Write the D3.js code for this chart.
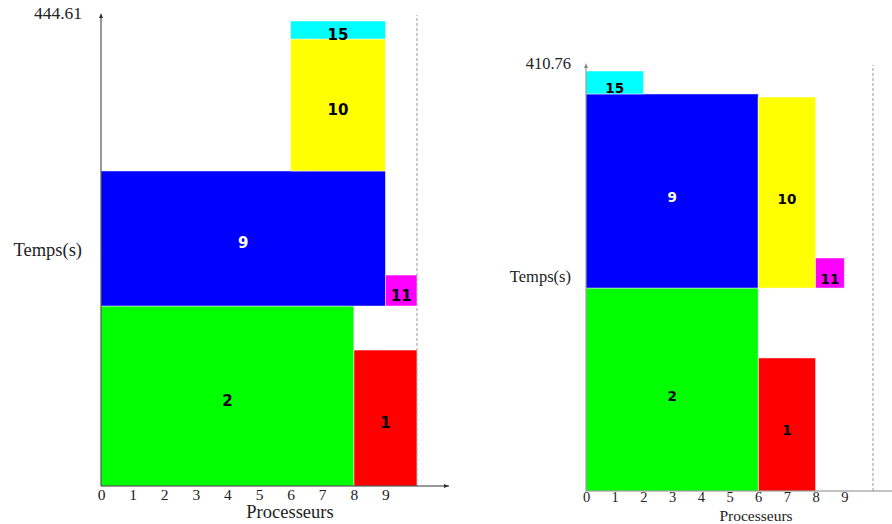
<!DOCTYPE html>
<html><head><meta charset="utf-8">
<script src="https://cdn.jsdelivr.net/npm/d3@7/dist/d3.min.js"></script>
<style>body{margin:0;background:#fff;}svg{display:block;}</style>
</head><body>
<svg id="chart" width="892" height="524"></svg>
<script>
// ---- data ----
const taskIds = [1, 2, 9, 10, 11, 15];
const procTicks = [0, 1, 2, 3, 4, 5, 6, 7, 8, 9];
const makespans = [444.61, 410.76];
const axisTitleX = "Processeurs";
const axisTitleY = "Temps(s)";
// left schedule
const leftProcFrom = [8, 0, 0, 6, 9, 6];
const leftProcTo   = [10, 8, 9, 9, 10, 9];
const leftStart    = [0, 0, 172.1, 301.2, 172.1, 427.4];
const leftEnd      = [130.0, 172.1, 301.2, 427.4, 201.7, 444.61];
// right schedule
const rightProcFrom = [6, 0, 0, 6, 8, 0];
const rightProcTo   = [8, 6, 6, 8, 9, 2];
const rightStart    = [0, 0, 198.5, 198.5, 198.5, 388.3];
const rightEnd      = [130.1, 198.5, 388.3, 385.3, 227.9, 410.76];
const procLimit = 10;

// ---- styles ----
const taskColor = {1: "#ff0000", 2: "#00ff00", 9: "#0000ff", 10: "#ffff00", 11: "#ff00ff", 15: "#00ffff"};
const labelColor = {9: "#ffffff"};

const svg = d3.select("#chart");
const serif = "'Liberation Serif', 'DejaVu Serif', serif";

function panel(cfg) {
  const x = d3.scaleLinear().domain([0, 1]).range([cfg.x0, cfg.x0 + cfg.unit]);
  const y = d3.scaleLinear().domain([0, cfg.makespan]).range([cfg.yBase, cfg.yTop]);
  const g = svg.append("g");
  const tasks = taskIds.map((id, i) => ({id, p0: cfg.pf[i], p1: cfg.pt[i], s: cfg.st[i], e: cfg.en[i]}));

  // bars
  g.selectAll("rect.task").data(tasks).enter().append("rect")
    .attr("x", d => x(d.p0)).attr("width", d => x(d.p1) - x(d.p0))
    .attr("y", d => y(d.e)).attr("height", d => y(d.s) - y(d.e))
    .attr("fill", d => taskColor[d.id])
    .attr("stroke", "rgba(255,255,255,0.6)").attr("stroke-width", 0.8);

  g.selectAll("text.tl").data(tasks).enter().append("text")
    .attr("x", d => (x(d.p0) + x(d.p1)) / 2)
    .attr("y", d => (y(d.s) + y(d.e)) / 2 + cfg.lblOff)
    .attr("text-anchor", "middle").attr("dominant-baseline", "central")
    .attr("font-family", "'DejaVu Sans', sans-serif").attr("font-weight", "bold")
    .attr("font-size", cfg.lblSize)
    .attr("fill", d => labelColor[d.id] || "#000")
    .text(d => d.id);

  // dashed limit line
  g.append("line").attr("x1", x(procLimit)).attr("x2", x(procLimit))
    .attr("y1", cfg.yBase).attr("y2", cfg.yTop - 6)
    .attr("stroke", "#999").attr("stroke-dasharray", "3,2").attr("stroke-width", 1);

  // axes lines
  g.append("line").attr("x1", cfg.x0).attr("x2", cfg.xEnd).attr("y1", cfg.yBase).attr("y2", cfg.yBase)
    .attr("stroke", cfg.axisColor).attr("stroke-width", 1);
  g.append("line").attr("x1", cfg.x0).attr("x2", cfg.x0).attr("y1", cfg.yBase).attr("y2", cfg.yTop - 6)
    .attr("stroke", cfg.axisColor).attr("stroke-width", 1);
  // arrowheads
  g.append("path").attr("d", `M${cfg.x0 - 2},${cfg.yTop - 3} L${cfg.x0},${cfg.yTop - 8} L${cfg.x0 + 2},${cfg.yTop - 3} Z`).attr("fill", cfg.axisColor);
  if (cfg.arrowX) g.append("path").attr("d", `M${cfg.xEnd - 5},${cfg.yBase - 2} L${cfg.xEnd},${cfg.yBase} L${cfg.xEnd - 5},${cfg.yBase + 2} Z`).attr("fill", cfg.axisColor);

  // x tick labels via axis
  const ax = g.append("g").attr("transform", `translate(0,${cfg.yBase})`)
    .call(d3.axisBottom(x).tickValues(procTicks).tickFormat(d3.format("d")).tickSize(0).tickPadding(cfg.tickPad));
  ax.select(".domain").remove();
  ax.selectAll("text").attr("font-family", serif).attr("font-size", cfg.tickSize).attr("fill", "#222");

  // titles
  g.append("text").attr("x", cfg.xTitleX).attr("y", cfg.yBase + cfg.xTitleDy)
    .attr("text-anchor", "middle").attr("font-family", serif).attr("font-size", cfg.xTitleSize).attr("fill", "#222")
    .text(axisTitleX);
  g.append("text").attr("x", cfg.yLabelX).attr("y", y(cfg.makespan / 2) + cfg.yTitleDy)
    .attr("text-anchor", "end").attr("font-family", serif).attr("font-size", cfg.titleSize).attr("fill", "#222")
    .text(axisTitleY);
  g.append("text").attr("x", cfg.yLabelX).attr("y", cfg.yTop - 2)
    .attr("text-anchor", "end").attr("font-family", serif).attr("font-size", cfg.valSize).attr("fill", "#222")
    .text(d3.format(".2f")(cfg.makespan));
}

panel({x0: 101, unit: 31.6, yBase: 486, yTop: 21, makespan: makespans[0],
  pf: leftProcFrom, pt: leftProcTo, st: leftStart, en: leftEnd,
  xEnd: 449, arrowX: true, axisColor: "#333", lblSize: 15, lblOff: 5,
  tickSize: 15.5, tickPad: 3, titleSize: 18.5, xTitleSize: 18.5, valSize: 17.5, xTitleX: 290, xTitleDy: 32, yLabelX: 82, yTitleDy: 2});

panel({x0: 586, unit: 28.7, yBase: 491, yTop: 71, makespan: makespans[1],
  pf: rightProcFrom, pt: rightProcTo, st: rightStart, en: rightEnd,
  xEnd: 892, arrowX: false, axisColor: "#888", lblSize: 13.5, lblOff: 6,
  tickSize: 14.5, tickPad: 1, titleSize: 16.5, xTitleSize: 15.5, valSize: 16.5, xTitleX: 756, xTitleDy: 29.5, yLabelX: 571, yTitleDy: 1});
</script>
</body></html>
